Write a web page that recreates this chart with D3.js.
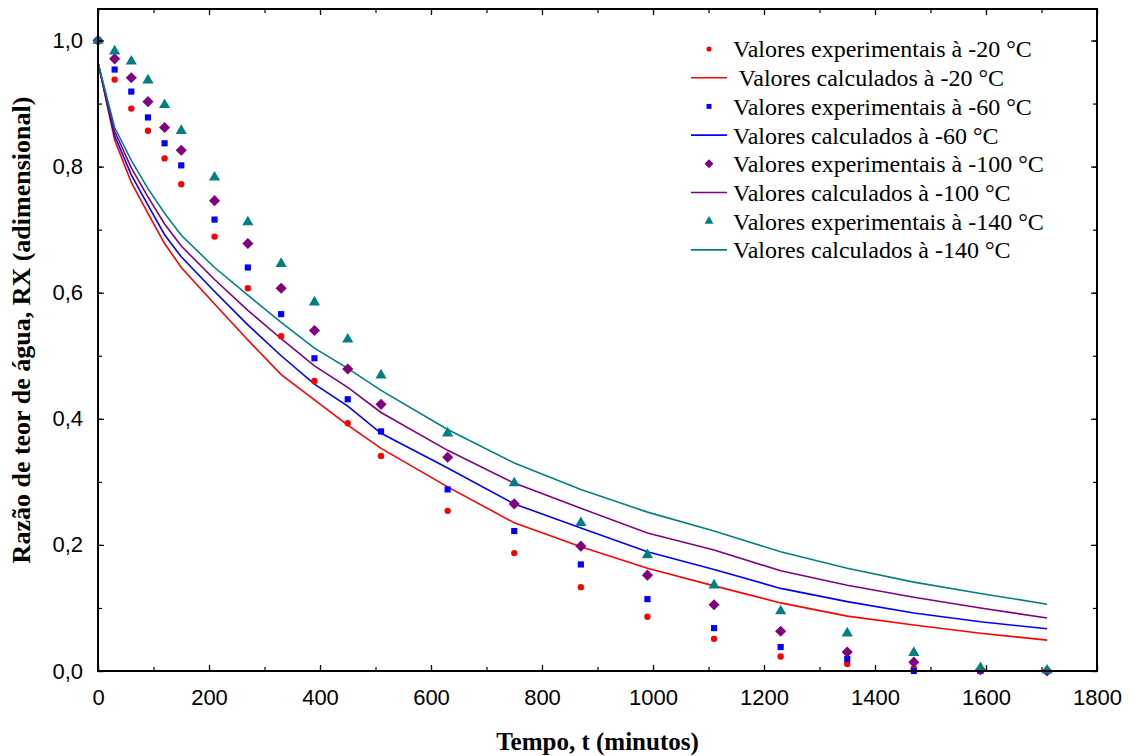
<!DOCTYPE html>
<html>
<head>
<meta charset="utf-8">
<script src="https://cdn.jsdelivr.net/npm/d3@7"></script>
<style>
  body { margin: 0; background: #fff; }
</style>
</head>
<body>
<div id="chart"></div>
<script>
const times = [0, 30, 60, 90, 120, 150, 210, 270, 330, 390, 450, 510, 630, 750, 870, 990, 1110, 1230, 1350, 1470, 1590, 1710];

const exp20 = [1.0, 0.938, 0.892, 0.857, 0.813, 0.772, 0.689, 0.607, 0.531, 0.460, 0.393, 0.341, 0.254, 0.187, 0.133, 0.086, 0.051, 0.023, 0.011, 0.004, 0, 0];
const exp60 = [1.0, 0.954, 0.919, 0.878, 0.837, 0.802, 0.716, 0.640, 0.566, 0.496, 0.431, 0.380, 0.288, 0.222, 0.169, 0.114, 0.068, 0.038, 0.019, 0, 0, 0];
const exp100 = [1.0, 0.971, 0.941, 0.903, 0.862, 0.826, 0.746, 0.678, 0.607, 0.540, 0.479, 0.423, 0.339, 0.265, 0.198, 0.152, 0.105, 0.063, 0.030, 0.014, 0.002, 0];
const exp140 = [1.0, 0.983, 0.967, 0.937, 0.898, 0.857, 0.783, 0.712, 0.646, 0.585, 0.526, 0.469, 0.377, 0.298, 0.235, 0.184, 0.136, 0.095, 0.060, 0.029, 0.005, 0.001];

const calc20 = [0.965, 0.842, 0.775, 0.726, 0.678, 0.640, 0.582, 0.525, 0.470, 0.430, 0.390, 0.353, 0.292, 0.235, 0.197, 0.163, 0.135, 0.108, 0.087, 0.073, 0.060, 0.049];
const calc60 = [0.965, 0.849, 0.787, 0.739, 0.692, 0.657, 0.602, 0.549, 0.500, 0.455, 0.420, 0.377, 0.322, 0.265, 0.227, 0.189, 0.161, 0.131, 0.110, 0.092, 0.078, 0.067];
const calc100 = [0.965, 0.856, 0.798, 0.752, 0.709, 0.674, 0.621, 0.572, 0.527, 0.484, 0.450, 0.410, 0.350, 0.298, 0.258, 0.219, 0.192, 0.159, 0.136, 0.117, 0.100, 0.084];
const calc140 = [0.965, 0.862, 0.810, 0.765, 0.726, 0.691, 0.640, 0.596, 0.553, 0.512, 0.480, 0.445, 0.383, 0.330, 0.288, 0.252, 0.222, 0.189, 0.163, 0.141, 0.123, 0.106];

const xTicks = [0, 200, 400, 600, 800, 1000, 1200, 1400, 1600, 1800];
const yTicks = [0, 0.2, 0.4, 0.6, 0.8, 1.0];

const legendLabels = [
  'Valores experimentais à -20 °C',
  ' Valores calculados à -20 °C',
  'Valores experimentais à -60 °C',
  'Valores calculados à -60 °C',
  'Valores experimentais à -100 °C',
  'Valores calculados à -100 °C',
  'Valores experimentais à -140 °C',
  'Valores calculados à -140 °C'
];

const series = [
  { exp: exp20, calc: calc20, color: '#ff0000', shape: 'circle' },
  { exp: exp60, calc: calc60, color: '#0000ff', shape: 'square' },
  { exp: exp100, calc: calc100, color: '#800080', shape: 'diamond' },
  { exp: exp140, calc: calc140, color: '#008080', shape: 'triangle' }
];

const width = 1131;
const height = 756;
const margin = { top: 9, right: 34, bottom: 85, left: 98 };

const svg = d3.select('#chart')
  .append('svg')
  .attr('width', width)
  .attr('height', height);

const x = d3.scaleLinear()
  .domain([0, 1800])
  .range([margin.left, width - margin.right]);

const y = d3.scaleLinear()
  .domain([0, 1.05])
  .range([height - margin.bottom, margin.top]);

// marker paths
function markerPath(shape, big) {
  const k = big ? 1 : 0.8;
  if (shape === 'circle') return d3.symbol(d3.symbolCircle, 32 * k * k)();
  if (shape === 'square') return d3.symbol(d3.symbolSquare, 38 * k * k)();
  if (shape === 'diamond') return d3.symbol(d3.symbolSquare, 62 * k * k)();
  return d3.symbol(d3.symbolTriangle, 54 * k * k)();
}

// calculated lines
const line = d3.line()
  .x((d, i) => x(times[i]))
  .y(d => y(d));

svg.append('g')
  .selectAll('path')
  .data(series)
  .join('path')
  .attr('fill', 'none')
  .attr('stroke', d => d.color)
  .attr('stroke-width', 1.6)
  .attr('d', d => line(d.calc));

// experimental points
series.forEach(s => {
  svg.append('g')
    .attr('fill', s.color)
    .selectAll('path')
    .data(s.exp)
    .join('path')
    .attr('d', markerPath(s.shape, true))
    .attr('transform', (d, i) => `translate(${x(times[i])},${y(d)})` + (s.shape === 'diamond' ? ' rotate(45)' : ''));
});

// axes: ticks pointing inward on all four sides
const fmt = d3.format('.1f');
const yFmt = d => fmt(d).replace('.', ',');
const xMinor = d3.range(0, 1801, 100);
const yMinor = d3.range(0, 11).map(d => d / 10);

function styleAxis(g) {
  g.select('.domain').remove();
  g.selectAll('.tick line').attr('stroke', '#000').attr('stroke-width', 1.2);
  g.selectAll('text')
    .attr('fill', '#000')
    .style('font-family', '"Liberation Sans", Arial, sans-serif')
    .style('font-size', '22px');
}

svg.append('g')
  .attr('transform', `translate(0,${height - margin.bottom})`)
  .call(d3.axisBottom(x).tickValues(xTicks).tickSize(-6).tickPadding(18).tickFormat(d3.format('d')))
  .call(styleAxis);
svg.append('g')
  .attr('transform', `translate(0,${height - margin.bottom})`)
  .call(d3.axisBottom(x).tickValues(xMinor).tickSize(-4).tickFormat(''))
  .call(styleAxis);
svg.append('g')
  .attr('transform', `translate(0,${margin.top})`)
  .call(d3.axisTop(x).tickValues(xMinor).tickSize(-4).tickFormat(''))
  .call(styleAxis);
svg.append('g')
  .attr('transform', `translate(0,${margin.top})`)
  .call(d3.axisTop(x).tickValues(xTicks).tickSize(-6).tickFormat(''))
  .call(styleAxis);

svg.append('g')
  .attr('transform', `translate(${margin.left},0)`)
  .call(d3.axisLeft(y).tickValues(yTicks).tickSize(-6).tickPadding(15).tickFormat(yFmt))
  .call(styleAxis);
svg.append('g')
  .attr('transform', `translate(${margin.left},0)`)
  .call(d3.axisLeft(y).tickValues(yMinor).tickSize(-4).tickFormat(''))
  .call(styleAxis);
svg.append('g')
  .attr('transform', `translate(${width - margin.right},0)`)
  .call(d3.axisRight(y).tickValues(yTicks).tickSize(-6).tickFormat(''))
  .call(styleAxis);
svg.append('g')
  .attr('transform', `translate(${width - margin.right},0)`)
  .call(d3.axisRight(y).tickValues(yMinor).tickSize(-4).tickFormat(''))
  .call(styleAxis);

// frame
svg.append('rect')
  .attr('x', margin.left)
  .attr('y', margin.top)
  .attr('width', width - margin.left - margin.right)
  .attr('height', height - margin.top - margin.bottom)
  .attr('fill', 'none')
  .attr('stroke', '#000')
  .attr('stroke-width', 2);

// axis titles
svg.append('text')
  .attr('x', (margin.left + width - margin.right) / 2)
  .attr('y', 750)
  .attr('text-anchor', 'middle')
  .style('font-family', '"Liberation Serif", "Times New Roman", serif')
  .style('font-weight', 'bold')
  .style('font-size', '25px')
  .text('Tempo, t (minutos)');

svg.append('text')
  .attr('transform', 'translate(30,330) rotate(-90)')
  .attr('text-anchor', 'middle')
  .style('font-family', '"Liberation Serif", "Times New Roman", serif')
  .style('font-weight', 'bold')
  .style('font-size', '26px')
  .text('Razão de teor de água, RX (adimensional)');

// legend
const legend = svg.append('g').attr('transform', 'translate(691,49)');
const rowH = 28.7;

legendLabels.forEach((label, i) => {
  const s = series[Math.floor(i / 2)];
  const row = legend.append('g').attr('transform', `translate(0,${i * rowH})`);
  if (i % 2 === 0) {
    row.append('path')
      .attr('d', markerPath(s.shape, false))
      .attr('fill', s.color)
      .attr('transform', 'translate(18,0)' + (s.shape === 'diamond' ? ' rotate(45)' : ''));
  } else {
    row.append('line')
      .attr('x1', 0).attr('x2', 36)
      .attr('stroke', s.color)
      .attr('stroke-width', 1.6);
  }
  row.append('text')
    .attr('x', 42)
    .attr('dy', '0.35em')
    .style('white-space', 'pre')
    .style('font-family', '"Liberation Serif", "Times New Roman", serif')
    .style('font-size', '24px')
    .text(label);
});
</script>
</body>
</html>
